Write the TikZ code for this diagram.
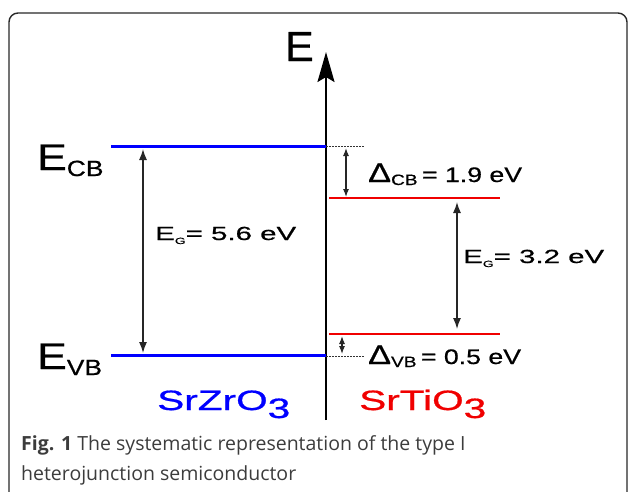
\documentclass[tikz,border=0pt]{standalone}
\usepackage{fontspec}
\setmainfont{Liberation Sans}[FakeBold=0.6]
\newfontfamily\capfont{Open Sans}
\usetikzlibrary{arrows.meta}
\definecolor{framegray}{RGB}{40,40,40}
\definecolor{capgray}{RGB}{60,60,60}
\definecolor{lvlblue}{RGB}{0,0,255}
\definecolor{lvlred}{RGB}{240,0,0}
\tikzset{
  framebox/.style={draw=framegray,line width=1.4pt,rounded corners=9pt},
  bluelevel/.style={draw=lvlblue,line width=3pt},
  redlevel/.style={draw=lvlred,line width=2.5pt},
  axisline/.style={draw=black,line width=2pt,-{Stealth[length=30pt,width=17pt,inset=5pt]}},
  gaparrow/.style={draw=black!85,line width=1.3pt,{Latex[length=11pt,width=8pt]}-{Latex[length=11pt,width=8pt]}},
  smallarrow/.style={draw=black!85,line width=1.1pt,{Latex[length=8pt,width=6pt]}-{Latex[length=8pt,width=6pt]}},
  dotline/.style={draw=black!80,line width=0.9pt,dash pattern=on 1.5pt off 1.5pt},
  lab/.style={inner sep=0pt,anchor=base west},
  caption/.style={inner sep=0pt,anchor=base west,text=capgray,font=\capfont\fontsize{19.5}{22}\selectfont}
}
\newcommand{\fsz}[1]{\fontsize{#1}{#1}\selectfont}
\begin{document}
\begin{tikzpicture}[x=1pt,y=-1pt]
\useasboundingbox (0,0) rectangle (629,491);
\begin{scope}
\clip (0,0) rectangle (629,491);
\draw[framebox] (9,540) rectangle (627,13);
\end{scope}
% axis
\coordinate (axb) at (326,420);
\coordinate (axt) at (326,52);
\draw[axisline] (axb) -- (axt);
\node[lab] (E) at (285,61) {\scalebox{1.02}[1]{\fsz{42}E}};
% levels
\coordinate (cbL) at (111,146); \coordinate (cbR) at (326,146);
\coordinate (vbL) at (111,355); \coordinate (vbR) at (326,355);
\coordinate (rcbL) at (329,198); \coordinate (rcbR) at (500,198);
\coordinate (rvbL) at (329,334); \coordinate (rvbR) at (500,334);
\draw[bluelevel] (cbL) -- (cbR);
\draw[bluelevel] (vbL) -- (vbR);
\draw[redlevel] (rcbL) -- (rcbR);
\draw[redlevel] (rvbL) -- (rvbR);
% dotted extensions
\coordinate (dcb) at (364,146); \coordinate (dvb0) at (326,356); \coordinate (dvb) at (364,356);
\draw[dotline] (cbR) -- (dcb);
\draw[dotline] (dvb0) -- (dvb);
% arrows
\coordinate (g1t) at (143,149); \coordinate (g1b) at (143,353);
\draw[gaparrow] (g1t) -- (g1b);
\coordinate (g2t) at (457,202); \coordinate (g2b) at (457,329);
\draw[gaparrow] (g2t) -- (g2b);
\coordinate (d1t) at (346,148); \coordinate (d1b) at (346,197);
\draw[smallarrow] (d1t) -- (d1b);
\coordinate (d2t) at (342,336); \coordinate (d2b) at (342,354);
\draw[smallarrow] (d2t) -- (d2b);
% labels
\node[lab] (ecb) at (37,170) {\scalebox{1.2}[1]{\fsz{37}E\fsz{22}\raisebox{-6pt}{CB}}};
\node[lab] (evb) at (37,369) {\scalebox{1.2}[1]{\fsz{37}E\fsz{22}\raisebox{-6pt}{VB}}};
\node[lab] (eg1) at (155,240) {\scalebox{1.55}[1]{\fsz{19}E\fsz{9}\raisebox{-4pt}{G}\fsz{19}= 5.6 eV}};
\node[lab] (eg2) at (463,263) {\scalebox{1.55}[1]{\fsz{19}E\fsz{9}\raisebox{-4pt}{G}\fsz{19}= 3.2 eV}};
\node[lab] (dcbl) at (368,182) {\scalebox{1.27}[1]{\fsz{27}Δ\fsz{15}\raisebox{-3pt}{CB}\fsz{21}\,= 1.9 eV}};
\node[lab] (dvbl) at (368,364) {\scalebox{1.27}[1]{\fsz{27}Δ\fsz{15}\raisebox{-3pt}{VB}\fsz{21}\,= 0.5 eV}};
\node[lab,text=lvlblue] (szo) at (157,410) {\scalebox{1.45}[1]{\fsz{28}SrZrO\raisebox{-8pt}{3}}};
\node[lab,text=lvlred] (sto) at (359,410) {\scalebox{1.45}[1]{\fsz{28}SrTiO\raisebox{-8pt}{3}}};
% caption
\node[caption] (cap1) at (21,450) {{\bfseries Fig. 1} The systematic representation of the type I};
\node[caption] (cap2) at (21,480) {heterojunction semiconductor};
\end{tikzpicture}
\end{document}
